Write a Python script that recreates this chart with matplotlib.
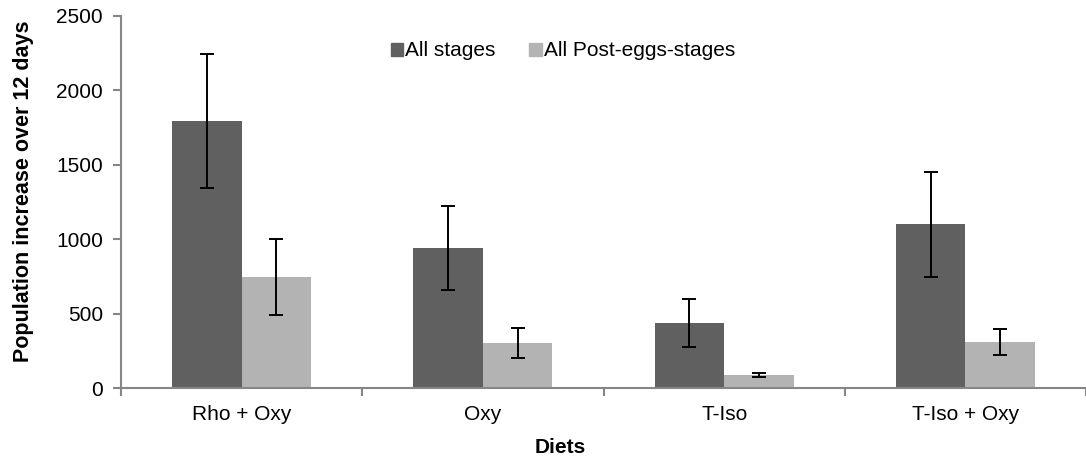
import numpy as np
import matplotlib
matplotlib.use("Agg")
import matplotlib.pyplot as plt
from matplotlib.patches import Patch

plt.rcParams["font.family"] = ["Liberation Sans", "DejaVu Sans"]

# ---------- data ----------
diets = ["Rho + Oxy", "Oxy", "T-Iso", "T-Iso + Oxy"]
all_stages = [1795, 943, 435, 1100]
all_stages_err = [450, 282, 160, 354]
post_eggs = [745, 302, 87, 307]
post_eggs_err = [255, 103, 12, 87]
series_names = ["All stages", "All Post-eggs-stages"]

# ---------- plot ----------
DARK = "#606060"
LIGHT = "#b3b3b3"
AXIS = "#868686"
BAR_W = 0.288
FS = 15

fig = plt.figure(figsize=(10.86, 4.57), dpi=100)
ax = fig.add_axes([121 / 1086, 69 / 457, 965 / 1086, 372 / 457])

x = np.arange(len(diets))
err_kw = dict(ecolor="black", elinewidth=1.4, capsize=5, capthick=1.4)
ax.bar(x - BAR_W / 2, all_stages, BAR_W, color=DARK, yerr=all_stages_err,
       error_kw=err_kw, zorder=2)
ax.bar(x + BAR_W / 2, post_eggs, BAR_W, color=LIGHT, yerr=post_eggs_err,
       error_kw=err_kw, zorder=2)

ax.set_xlim(-0.5, -0.5 + 965 / 243)
ax.set_ylim(0, 2500)
ax.set_yticks(range(0, 2501, 500))

# category boundary ticks, labels at centres
ax.set_xticks(np.arange(len(diets) + 1) - 0.5)
ax.set_xticklabels([])
ax.set_xticks(x, minor=True)
ax.set_xticklabels(diets, minor=True)
ax.tick_params(axis="x", which="minor", length=0, pad=12, labelsize=FS)
ax.tick_params(axis="x", which="major", length=6, width=1.5, color=AXIS)
ax.tick_params(axis="y", length=6, width=1.5, color=AXIS, labelsize=FS, pad=7)

for s in ["top", "right"]:
    ax.spines[s].set_visible(False)
for s in ["left", "bottom"]:
    ax.spines[s].set_color(AXIS)
    ax.spines[s].set_linewidth(1.5)

ax.set_ylabel("Population increase over 12 days", fontsize=15.5, fontweight="bold")
ax.yaxis.set_label_coords(-0.09, 0.53)
ax.set_xlabel("Diets", fontsize=FS, fontweight="bold", va="center")
ax.xaxis.set_label_coords(0.455, -0.16)

handles = [Patch(color=DARK), Patch(color=LIGHT)]
ax.legend(handles, series_names, loc="center", bbox_to_anchor=(0.458, 0.906),
          ncol=2, frameon=False, fontsize=FS, handlelength=0.6,
          handleheight=0.6, handletextpad=0.1, columnspacing=1.6)

fig.savefig("out.png", dpi=100)
